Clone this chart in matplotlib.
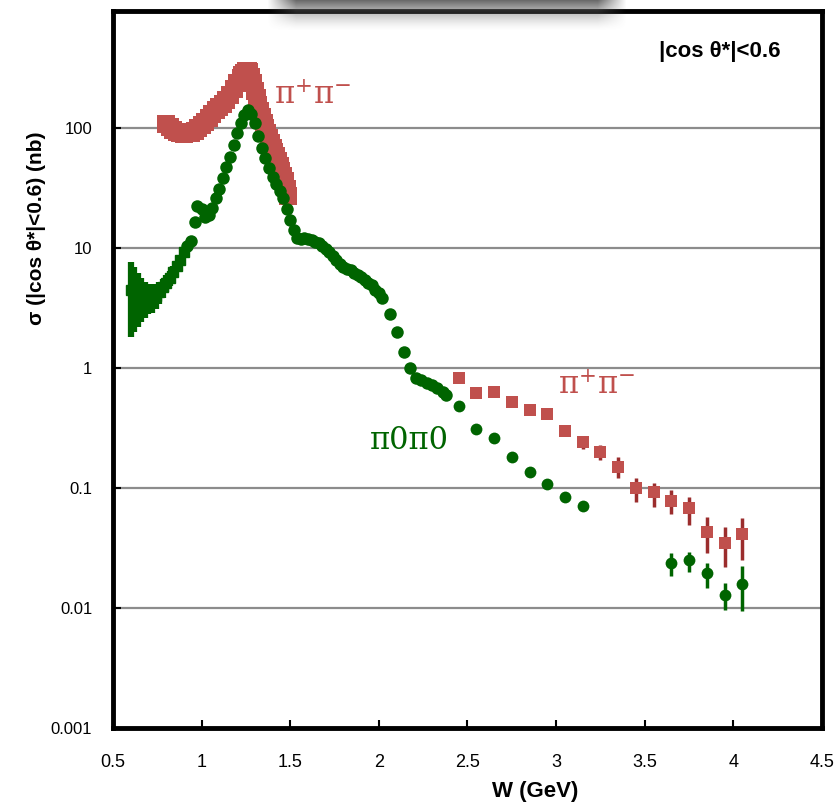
import numpy as np
import matplotlib
matplotlib.use("Agg")
import matplotlib.pyplot as plt
from matplotlib.ticker import NullLocator

# pi+pi- band at low W
pipm_band_w = [0.80, 0.82, 0.84, 0.86, 0.88, 0.90, 0.92, 0.94, 0.96, 0.98, 1.00, 1.02, 1.04, 1.06, 1.08,
               1.10, 1.12, 1.14, 1.16, 1.18, 1.20, 1.22, 1.23, 1.24, 1.25, 1.26, 1.27, 1.28, 1.29, 1.30,
               1.31, 1.32, 1.33, 1.34, 1.35, 1.36, 1.37, 1.38, 1.39, 1.40, 1.41, 1.42, 1.43, 1.44, 1.45,
               1.46, 1.47, 1.48, 1.49]
pipm_band_s = [108, 101, 96, 92, 90, 89, 90, 91, 95, 100, 106, 113, 121, 130, 140,
               150, 160, 171, 188, 210, 235, 262, 275, 287, 297, 300, 292, 265, 235, 205,
               178, 156, 138, 123, 111, 100, 90, 82, 75, 68, 63, 58, 53, 48, 44,
               40, 36, 31, 27]

# pi+pi- high W points
pipm_w = [2.45, 2.55, 2.65, 2.75, 2.85, 2.95, 3.05, 3.15, 3.25, 3.35, 3.45, 3.55, 3.65, 3.75, 3.85, 3.95, 4.05]
pipm_s = [0.83, 0.62, 0.63, 0.52, 0.45, 0.41, 0.30, 0.24, 0.20, 0.15, 0.100, 0.093, 0.078, 0.068, 0.043, 0.035, 0.041]
pipm_lo = [0.80, 0.60, 0.61, 0.50, 0.43, 0.39, 0.27, 0.21, 0.17, 0.12, 0.077, 0.070, 0.061, 0.049, 0.029, 0.022, 0.025]
pipm_hi = [0.86, 0.64, 0.65, 0.54, 0.47, 0.43, 0.33, 0.27, 0.23, 0.18, 0.120, 0.110, 0.096, 0.084, 0.057, 0.047, 0.056]

# pi0pi0 near threshold (with large errors)
pi00_low_w = [0.60, 0.62, 0.64, 0.66, 0.68, 0.70, 0.72, 0.74, 0.76, 0.78, 0.80, 0.82, 0.84, 0.86, 0.88, 0.90]
pi00_low_s = [4.5, 4.3, 4.1, 3.9, 3.8, 3.8, 3.9, 4.0, 4.3, 4.7, 5.1, 5.6, 6.3, 7.1, 8.0, 9.2]
pi00_low_lo = [1.8, 2.0, 2.2, 2.4, 2.6, 2.8, 2.9, 3.1, 3.4, 3.8, 4.3, 4.8, 5.6, 6.4, 7.4, 8.6]
pi00_low_hi = [7.7, 7.0, 6.2, 5.6, 5.2, 5.0, 5.0, 5.0, 5.2, 5.5, 5.9, 6.4, 7.1, 7.8, 8.7, 9.8]

# pi0pi0 dense points
pi00_w = [0.92, 0.94, 0.96, 0.975, 1.00, 1.02, 1.04, 1.06, 1.08, 1.10, 1.12, 1.14, 1.16, 1.18, 1.20,
          1.22, 1.24, 1.26, 1.28, 1.30, 1.32, 1.34, 1.36, 1.38, 1.40, 1.42, 1.44, 1.46, 1.48, 1.50,
          1.52, 1.54, 1.56, 1.58, 1.60, 1.62, 1.64, 1.66, 1.68, 1.70, 1.72, 1.74, 1.76, 1.78, 1.80,
          1.82, 1.84, 1.86, 1.88, 1.90, 1.92, 1.94, 1.96, 1.98, 2.00,
          2.02, 2.06, 2.10, 2.14, 2.175, 2.21, 2.24, 2.27, 2.30, 2.33, 2.36, 2.38]
pi00_s = [10.3, 11.5, 16.5, 22.5, 21, 18, 19, 21.5, 26, 31, 38, 47, 57, 72, 90,
          110, 128, 140, 132, 110, 86, 68, 56, 46, 39, 34, 30, 26, 21, 17,
          14, 12.2, 11.8, 12, 11.9, 11.6, 11.2, 11, 10.4, 9.8, 9.2, 8.6, 7.9, 7.4, 7.0,
          6.7, 6.5, 6.2, 5.9, 5.7, 5.4, 5.1, 4.9, 4.5, 4.2,
          3.8, 2.8, 2.0, 1.36, 1.0, 0.83, 0.79, 0.75, 0.72, 0.68, 0.63, 0.60]

# pi0pi0 high W points
pi00_hw_w = [2.45, 2.55, 2.65, 2.75, 2.85, 2.95, 3.05, 3.15, 3.65, 3.75, 3.85, 3.95, 4.05]
pi00_hw_s = [0.48, 0.31, 0.26, 0.18, 0.136, 0.108, 0.084, 0.071, 0.0237, 0.025, 0.0196, 0.0128, 0.0158]
pi00_hw_lo = [0.47, 0.30, 0.25, 0.175, 0.132, 0.105, 0.081, 0.068, 0.0186, 0.020, 0.0148, 0.0097, 0.0095]
pi00_hw_hi = [0.49, 0.32, 0.27, 0.185, 0.140, 0.111, 0.087, 0.074, 0.029, 0.0295, 0.0236, 0.0163, 0.0225]

x_ticks = [0.5, 1, 1.5, 2, 2.5, 3, 3.5, 4, 4.5]
x_labels = ["0.5", "1", "1.5", "2", "2.5", "3", "3.5", "4", "4.5"]
y_ticks = [0.001, 0.01, 0.1, 1, 10, 100]
y_labels = ["0.001", "0.01", "0.1", "1", "10", "100"]

red = "#c0504d"
red_dark = "#9b2d2d"
green = "#006400"

plt.rcParams['font.family'] = ['Liberation Sans', 'DejaVu Sans']
plt.rcParams['mathtext.fontset'] = 'dejavuserif'

fig = plt.figure(figsize=(8.37, 8.09), dpi=100)
ax = fig.add_axes([113/837, 81/809, 709/837, 717/809])
ax.set_yscale("log")
ax.set_xlim(0.5, 4.5)
ax.set_ylim(1e-3, 10**2.975)

# gridlines
for g in [0.01, 0.1, 1, 10, 100]:
	ax.axhline(g, color="#8c8c8c", lw=1.6, zorder=1)

# pi+pi- band: stacked squares
ax.plot(pipm_band_w, pipm_band_s, color=red, lw=8, marker="s", ms=12.5, mew=0, zorder=3)

# pi0pi0
s = np.array(pi00_low_s)
ax.errorbar(pi00_low_w, pi00_low_s, yerr=[s - np.array(pi00_low_lo), np.array(pi00_low_hi) - s],
	fmt="s", ms=7, color=green, ecolor=green, elinewidth=4.5, capsize=0, zorder=4)
ax.plot(pi00_w, pi00_s, "o", color=green, ms=9, mew=0, zorder=4)

s = np.array(pipm_s)
ax.errorbar(pipm_w, pipm_s, yerr=[s - np.array(pipm_lo), np.array(pipm_hi) - s],
	fmt="s", ms=9, mew=0, color=red, ecolor=red_dark, elinewidth=2.5, capsize=0, zorder=3)
s = np.array(pi00_hw_s)
ax.errorbar(pi00_hw_w, pi00_hw_s, yerr=[s - np.array(pi00_hw_lo), np.array(pi00_hw_hi) - s],
	fmt="o", ms=8.5, mew=0, color=green, ecolor=green, elinewidth=2.5, capsize=0, zorder=4)

# labels inside
ax.text(1.41, 188, r"π$^{+}$π$^{-}$", color=red, fontsize=22, family="DejaVu Serif", va="center", ha="left")
ax.text(3.01, 0.72, r"π$^{+}$π$^{-}$", color=red, fontsize=22, family="DejaVu Serif", va="center", ha="left")
ax.text(1.95, 0.25, "π0π0", color=green, fontsize=22, family="DejaVu Serif", va="center", ha="left")
ax.text(4.265, 430, "|cos θ*|<0.6", fontsize=16, fontweight="bold", va="center", ha="right")

ax.yaxis.set_minor_locator(NullLocator())
ax.set_xticks(x_ticks)
ax.set_xticklabels(x_labels)
ax.set_yticks(y_ticks)
ax.set_yticklabels(y_labels)
ax.tick_params(axis="x", direction="in", length=6, width=1.5, labelsize=13, pad=19, top=False)
ax.tick_params(axis="y", direction="in", length=6, width=1.5, labelsize=12, pad=15, right=False)
for sp in ax.spines.values():
	sp.set_linewidth(3.5)

fig.text(535/837, 1 - 792/809, "W (GeV)", fontsize=16, fontweight="bold", ha="center", va="center")
fig.text(37/837, 1 - 228/809, "σ (|cos θ*|<0.6) (nb)", fontsize=15, fontweight="bold",
	rotation=90, ha="center", va="center")

# shadow of a box at the top edge
sh = fig.add_axes([267/837, 1 - 32/809, 360/837, 32/809], zorder=10)
h, w = 32, 360
yy = np.linspace(0, 1, h)[:, None]
xx = np.linspace(0, 1, w)[None, :]
alpha = (1 - yy) ** 1.6 * np.clip(np.minimum(xx, 1 - xx) / 0.08, 0, 1)
img = np.zeros((h, w, 4))
img[..., :3] = 0.35
img[..., 3] = alpha * 0.9
sh.imshow(img, aspect="auto", interpolation="bilinear")
sh.axis("off")

fig.savefig("out.png", dpi=100)
